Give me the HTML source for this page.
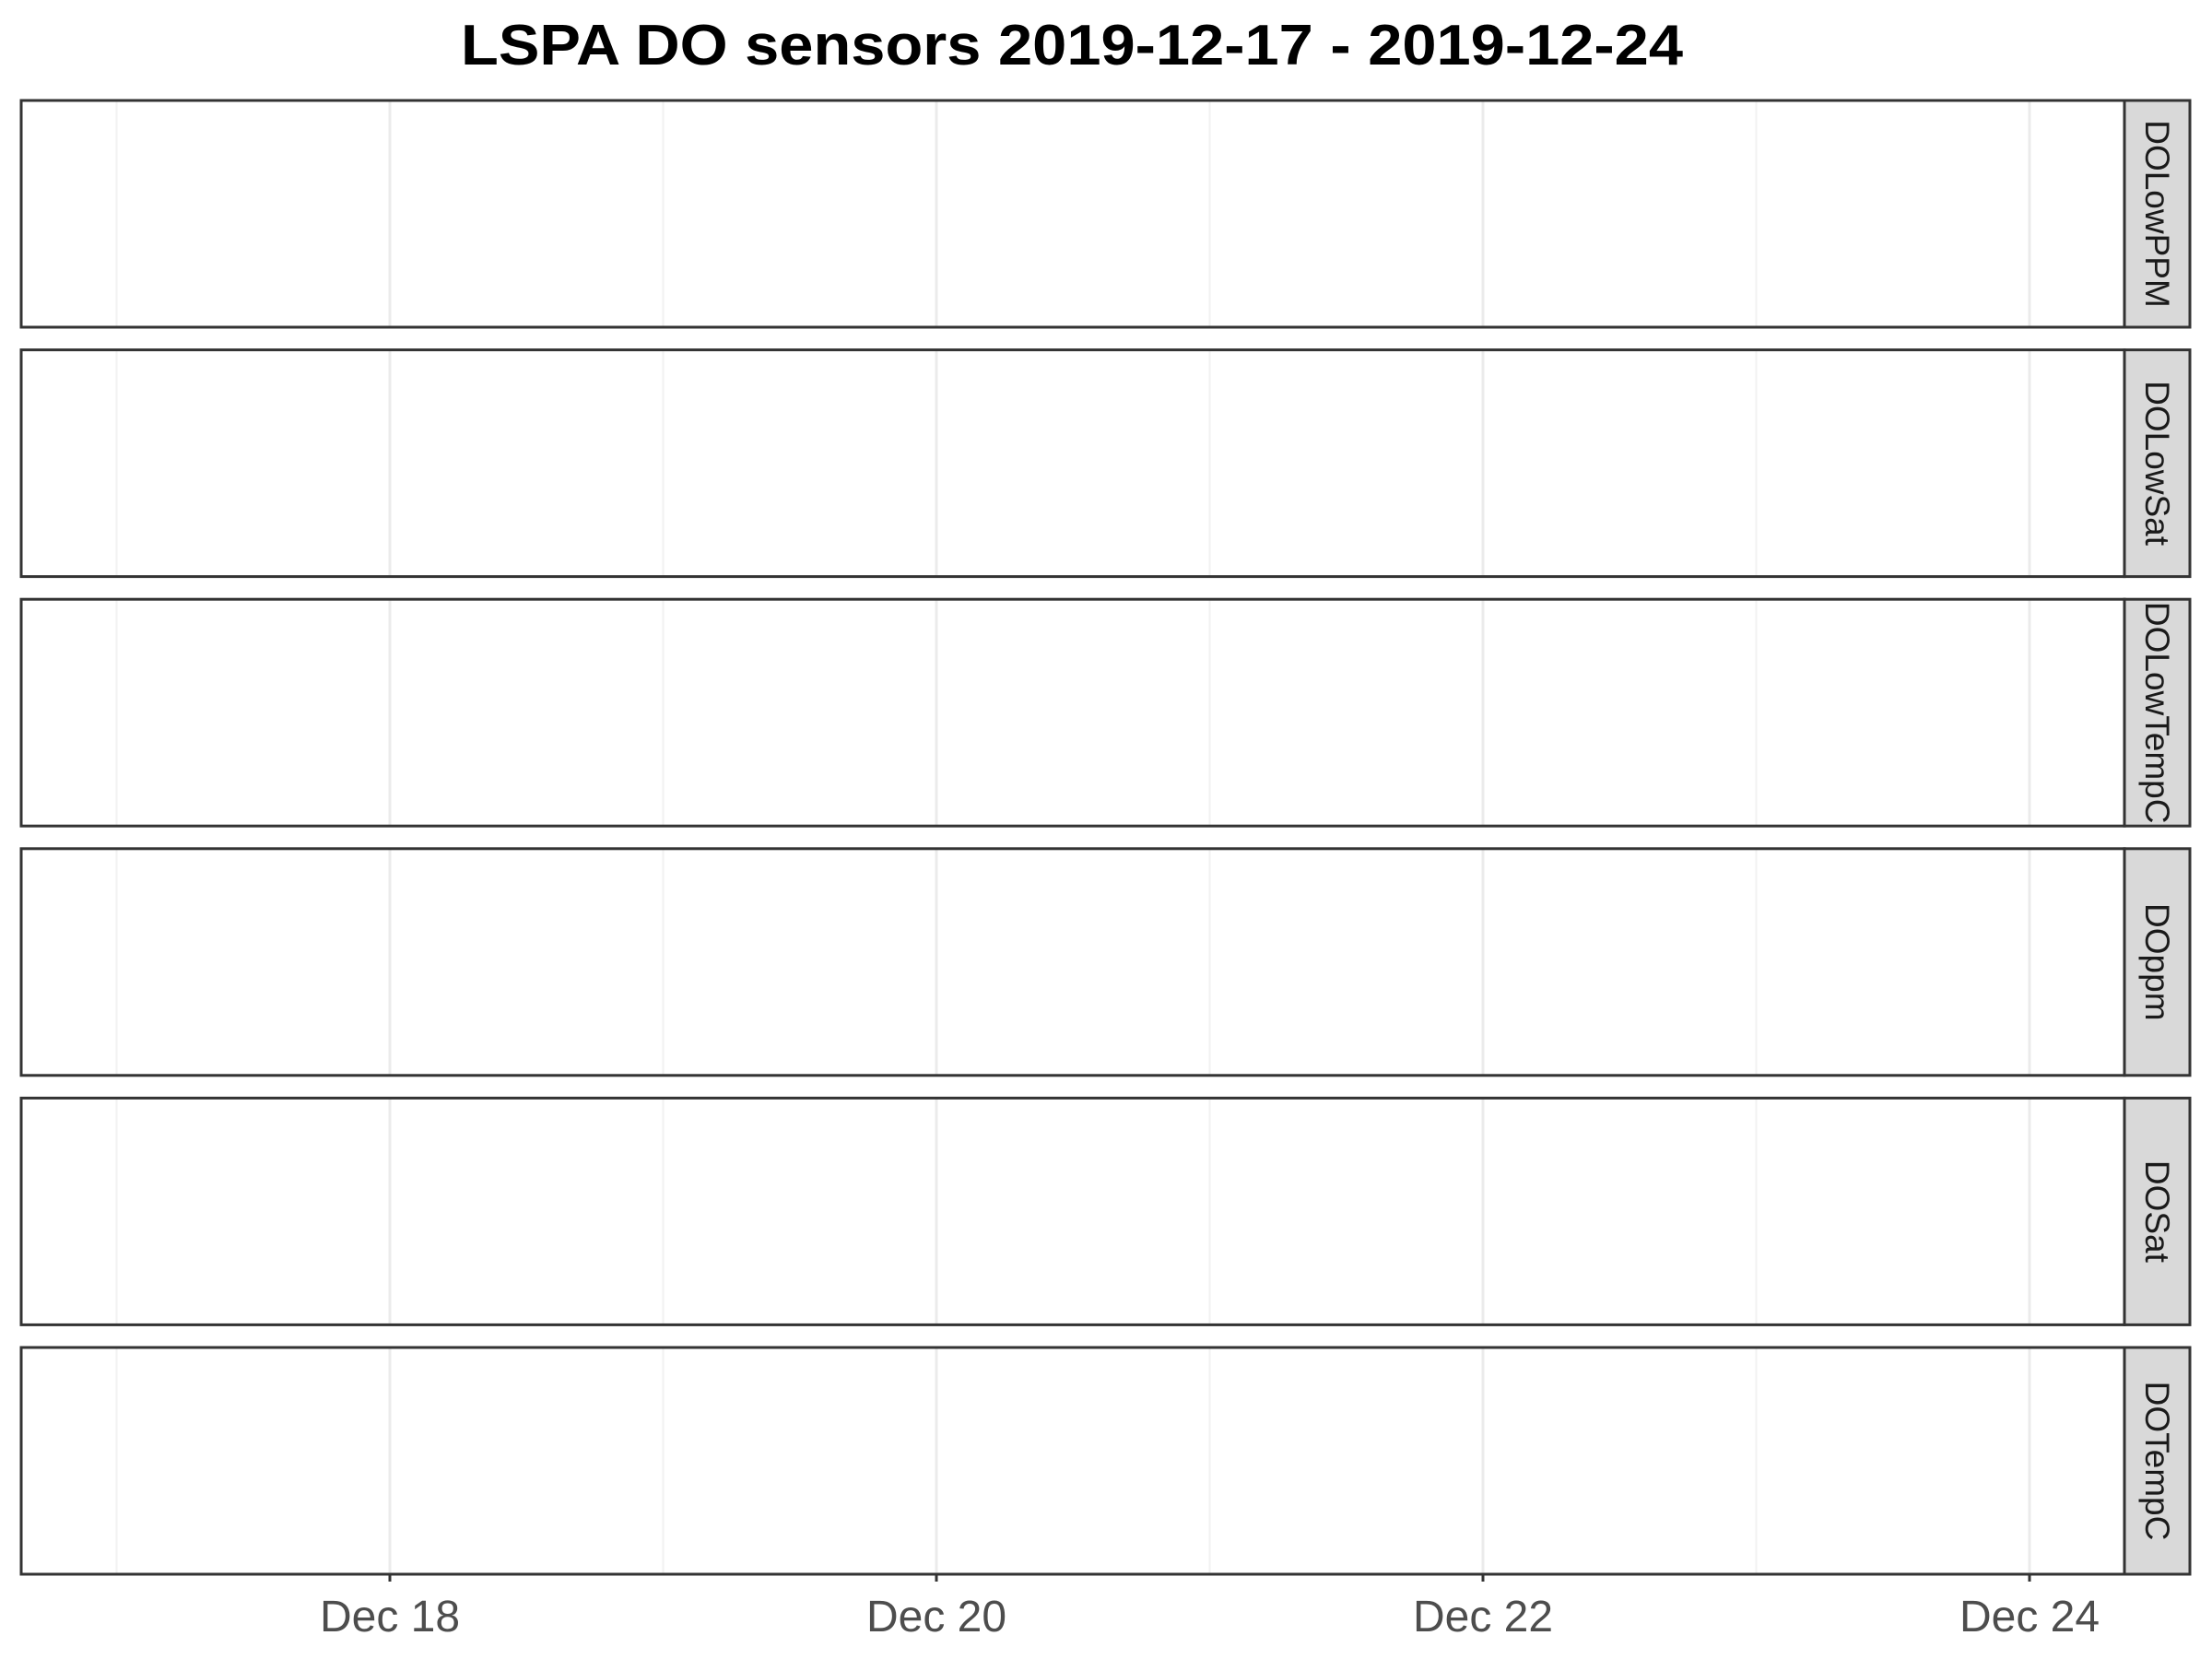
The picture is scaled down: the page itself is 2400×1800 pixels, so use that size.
<!DOCTYPE html>
<html><head><meta charset="utf-8"><style>html,body{margin:0;padding:0;background:#fff}svg{display:block}</style></head>
<body>
<svg id="chart" width="2400" height="1800" xmlns="http://www.w3.org/2000/svg" font-family="Liberation Sans, Arial, sans-serif">
<text x="1163" y="70" text-anchor="middle" font-size="62" font-weight="bold" textLength="1326" lengthAdjust="spacingAndGlyphs">LSPA DO sensors 2019-12-17 - 2019-12-24</text>
<g id="panels"></g>
</svg>
<script>
const facets = ["DOLowPPM","DOLowSat","DOLowTempC","DOppm","DOSat","DOTempC"];
const majorDays = [18,20,22,24];
const majorLabels = ["Dec 18","Dec 20","Dec 22","Dec 24"];
const minorDays = [17,19,21,23];
const NS="http://www.w3.org/2000/svg";
const g=document.getElementById('panels');
const left=23,right=2305,stripR=2376,top0=109,ph=246,pitch=270.6;
function x(d){return 423+(d-18)*296.5;}
function mk(t,a){const e=document.createElementNS(NS,t);for(const k in a)e.setAttribute(k,a[k]);g.appendChild(e);return e;}
facets.forEach((f,i)=>{
  const y0=top0+i*pitch;
  minorDays.forEach(d=>{const l=mk('line',{x1:x(d),x2:x(d),y1:y0,y2:y0+ph,stroke:'#f2f2f2','stroke-width':2});
    
    });
  majorDays.forEach(d=>{const l=mk('line',{x1:x(d),x2:x(d),y1:y0,y2:y0+ph,stroke:'#ebebeb','stroke-width':3});
    
    });
  const r=mk('rect',{x:left,y:y0,width:right-left,height:ph,fill:'none',stroke:'#333','stroke-width':3});
  
  
  const s=mk('rect',{x:right,y:y0,width:stripR-right,height:ph,fill:'#d9d9d9',stroke:'#333','stroke-width':3});
  
  
  const cx=(right+stripR)/2,cy=y0+ph/2;
  const t=mk('text',{x:cx,y:cy,'font-size':37,fill:'#1a1a1a','text-anchor':'middle','dominant-baseline':'central',transform:`rotate(90 ${cx} ${cy})`});
  t.textContent=f;
  
  
});
const yb=top0+5*pitch+ph;
majorDays.forEach((d,i)=>{
  const l=mk('line',{x1:x(d),x2:x(d),y1:yb,y2:yb+8,stroke:'#333','stroke-width':3});
  
  
  const t=mk('text',{x:x(d),y:yb+62,'font-size':48,fill:'#4d4d4d','text-anchor':'middle'});
  t.textContent=majorLabels[i];
  
  
});
</script>
</body></html>
